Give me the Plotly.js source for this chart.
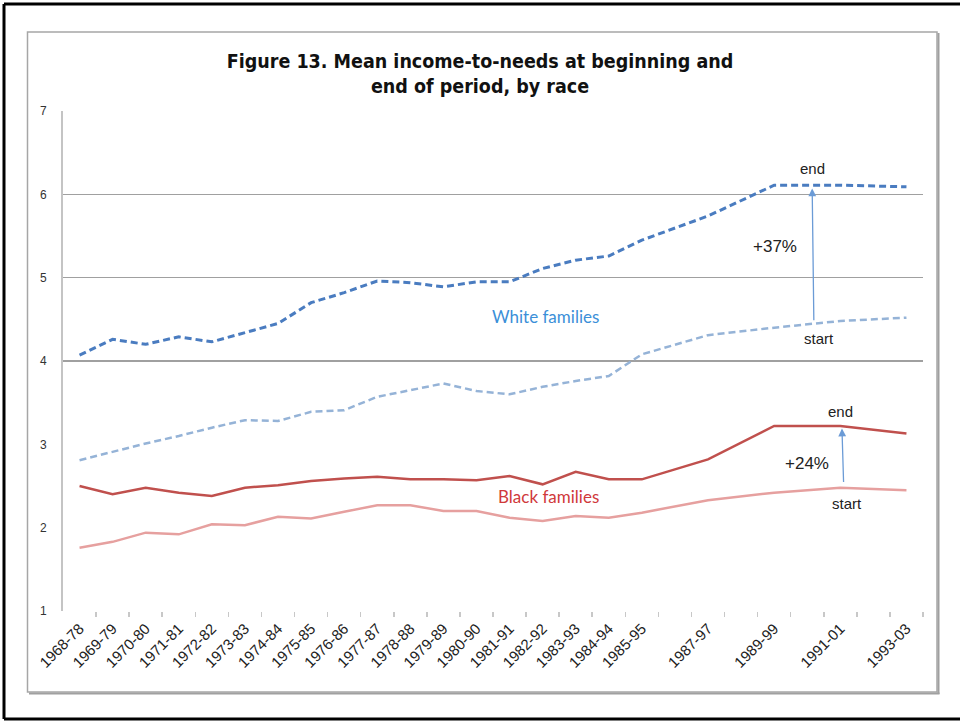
<!DOCTYPE html>
<html>
<head>
<meta charset="utf-8">
<script src="https://cdn.plot.ly/plotly-3.0.1.min.js"></script>
<style>html,body{margin:0;padding:0;background:#fff;}#chart{width:960px;height:721px;}</style>
</head>
<body>
<div id="chart"></div>
<script>
// Period labels (start year - end year)
const periods = ["1968-78","1969-79","1970-80","1971-81","1972-82","1973-83","1974-84","1975-85","1976-86","1977-87","1978-88","1979-89","1980-90","1981-91","1982-92","1983-93","1984-94","1985-95","1987-97","1989-99","1991-01","1993-03"];
// Mean income-to-needs
const whiteEnd   = [4.07,4.26,4.20,4.29,4.23,4.34,4.45,4.70,4.82,4.96,4.94,4.89,4.95,4.95,5.11,5.21,5.26,5.45,5.74,6.11,6.11,6.09];
const whiteStart = [2.81,2.91,3.01,3.10,3.20,3.29,3.28,3.39,3.41,3.57,3.65,3.73,3.64,3.60,3.69,3.76,3.82,4.08,4.31,4.40,4.48,4.52];
const blackEnd   = [2.50,2.40,2.48,2.42,2.38,2.48,2.51,2.56,2.59,2.61,2.58,2.58,2.57,2.62,2.52,2.67,2.58,2.58,2.82,3.22,3.22,3.13];
const blackStart = [1.76,1.83,1.94,1.92,2.04,2.03,2.13,2.11,2.19,2.27,2.27,2.20,2.20,2.12,2.08,2.14,2.12,2.18,2.33,2.42,2.48,2.45];
const yTicks = [1,2,3,4,5,6,7];
const gridVals = [4,5,6,7];

const xs = periods.map(p => parseInt(p.slice(0,4),10));
const firstYear = xs[0], lastYear = xs[xs.length-1];
const boundaries = [];
for (let y = firstYear; y <= lastYear + 1; y++) boundaries.push(y - 0.5);

const traces = [
  {x: xs, y: whiteEnd, mode:'lines', line:{color:'#4a7cc0', width:3, dash:'7px,4px'}, hoverinfo:'skip'},
  {x: xs, y: whiteStart, mode:'lines', line:{color:'#95b3d7', width:2.5, dash:'7px,4px'}, hoverinfo:'skip'},
  {x: xs, y: blackEnd, mode:'lines', line:{color:'#c0504d', width:2.5}, hoverinfo:'skip'},
  {x: xs, y: blackStart, mode:'lines', line:{color:'#e6a09f', width:2.5}, hoverinfo:'skip'},
  {x: [], y: [], xaxis:'x2', yaxis:'y2', hoverinfo:'skip'}
];

// pixel helpers for frame shapes (paper coords relative to plot area 63..923, 111..611)
const px = v => (v - 63) / 860;
const py = v => (611 - v) / 500;

const lblFont = {family:'Liberation Sans, Arial, sans-serif', size:15, color:'#222'};
const layout = {
  width:960, height:721,
  margin:{l:63, r:37, t:111, b:110},
  paper_bgcolor:'#fff', plot_bgcolor:'rgba(0,0,0,0)',
  showlegend:false,
  title:{text:'Figure 13. Mean income-to-needs at beginning and<br>end of period, by race',
    font:{family:'DejaVu Sans Condensed, DejaVu Sans, sans-serif', size:19.5, color:'#111', weight:'bold'},
    x:0.5, xanchor:'center', yref:'container', y:1-68/721, yanchor:'middle'},
  xaxis:{range:[firstYear-0.5, lastYear+0.5], tickmode:'array', tickvals:xs, ticktext:periods,
    tickangle:-45, ticks:'', showgrid:false, zeroline:false, showline:false,
    tickfont:{family:'Liberation Sans, Arial, sans-serif', size:15, color:'#222'}, ticklabelstandoff:5},
  xaxis2:{overlaying:'x', anchor:'y', range:[firstYear-0.5, lastYear+0.5], tickmode:'array', tickvals:boundaries.slice(1),
    ticks:'outside', ticklen:5, tickwidth:1.5, tickcolor:'#c8c8c8', showticklabels:false, showgrid:false, zeroline:false, showline:false},
  yaxis:{range:[1,7], tickmode:'array', tickvals:yTicks, ticks:'', showgrid:false, zeroline:false,
    showline:true, linecolor:'#c4c4c4', linewidth:2,
    tickfont:{family:'Liberation Sans, Arial, sans-serif', size:12, color:'#333'}, ticklabelstandoff:12},
  yaxis2:{overlaying:'y', range:[1,7], tickmode:'array', tickvals:gridVals, showticklabels:false, ticks:'',
    showgrid:true, gridcolor:'#a0a0a0', gridwidth:1.5, zeroline:false, showline:false},
  shapes:[
    {type:'line', xref:'paper', yref:'paper', x0:px(4), x1:px(965), y0:py(4), y1:py(4), line:{color:'#000', width:3}},
    {type:'line', xref:'paper', yref:'paper', x0:px(4), x1:px(4), y0:py(4), y1:py(719), line:{color:'#000', width:3}},
    {type:'line', xref:'paper', yref:'paper', x0:px(4), x1:px(965), y0:py(719), y1:py(719), line:{color:'#000', width:3}},
    {type:'rect', xref:'paper', yref:'paper', x0:px(27.5), x1:px(937), y0:py(32), y1:py(692), line:{color:'#a6a6a6', width:1.5}},
    {type:'line', xref:'paper', yref:'paper', x0:px(938.5), x1:px(938.5), y0:py(33), y1:py(694), line:{color:'#a0a0a0', width:2}},
    {type:'line', xref:'paper', yref:'paper', x0:px(29), x1:px(939.5), y0:py(693.5), y1:py(693.5), line:{color:'#a0a0a0', width:2}}
  ],
  annotations:[
    {x:1990.15, y:6.07, ax:1990.2, ay:4.47, xref:'x', yref:'y', axref:'x', ayref:'y', showarrow:true,
      arrowhead:2, arrowsize:1.2, arrowwidth:1.3, arrowcolor:'#6b9bd6', text:''},
    {x:1991.05, y:3.19, ax:1991.1, ay:2.53, xref:'x', yref:'y', axref:'x', ayref:'y', showarrow:true,
      arrowhead:2, arrowsize:1.2, arrowwidth:1.3, arrowcolor:'#6b9bd6', text:''},
    {x:1990.17, y:6.31, text:'end', showarrow:false, font:lblFont},
    {x:1990.36, y:4.27, text:'start', showarrow:false, font:lblFont},
    {x:1989.03, y:5.37, text:'+37%', showarrow:false, font:{family:'Liberation Sans, Arial, sans-serif', size:17, color:'#222'}},
    {x:1991.02, y:3.40, text:'end', showarrow:false, font:lblFont},
    {x:1991.2, y:2.29, text:'start', showarrow:false, font:lblFont},
    {x:1990.0, y:2.77, text:'+24%', showarrow:false, font:{family:'Liberation Sans, Arial, sans-serif', size:17, color:'#222'}},
    {x:1982.08, y:4.54, text:'White families', showarrow:false, font:{family:'Lato, Noto Sans, sans-serif', size:17, color:'#3b8fd8'}},
    {x:1982.17, y:2.37, text:'Black families', showarrow:false, font:{family:'Lato, Noto Sans, sans-serif', size:17, color:'#d0393b'}}
  ]
};

Plotly.newPlot('chart', traces, layout, {displayModeBar:false, staticPlot:true});
</script>
</body>
</html>
